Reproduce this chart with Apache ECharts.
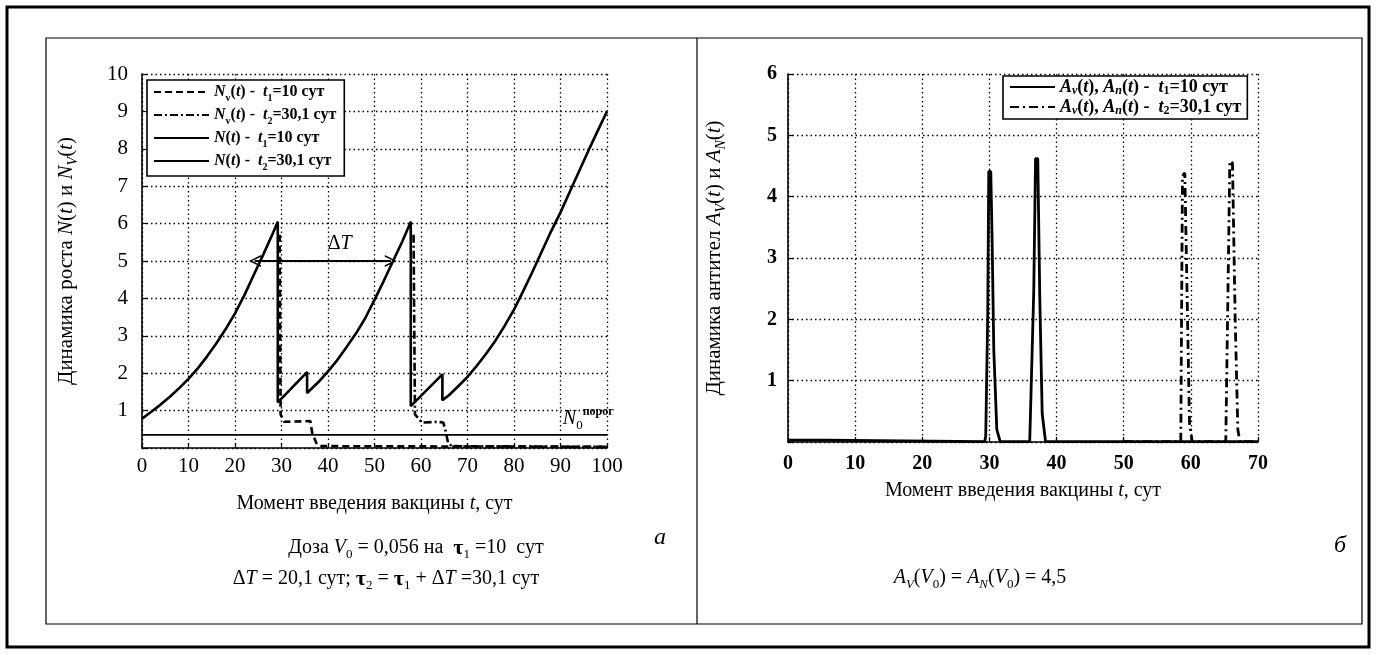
<!DOCTYPE html>
<html><head><meta charset="utf-8">
<script src="https://cdn.jsdelivr.net/npm/echarts@6/dist/echarts.min.js"></script>
<style>html,body{margin:0;padding:0;background:#fff}#c{width:1376px;height:654px}</style>
</head><body><div id="c"></div>
<script>
// ---------- data ----------
const leftX = { min: 0, max: 100, step: 10 };
const leftY = { min: 0, max: 10, step: 1 };
const rightX = { min: 0, max: 70, step: 10 };
const rightY = { min: 0, max: 6, step: 1 };

// N(t), t1 = 10 сут (thin solid)
const N_t1 = [[0,0.78],[2,0.97],[4,1.16],[6,1.37],[8,1.6],[10,1.85],[12,2.13],[14,2.45],[16,2.8],[18,3.18],[20,3.6],[22,4.08],[24,4.62],[26,5.15],[28,5.7],[29.2,6.05],
 [29.2,1.22],[35.5,2.03],[35.5,1.47],[36,1.53],[38,1.77],[40,2.05],[42,2.35],[44,2.7],[46,3.06],[48,3.47],[50,3.96],[52,4.47],[54,5.0],[56,5.53],[57.8,6.05],
 [57.8,1.12],[64.6,1.97],[64.6,1.28],[66,1.41],[68,1.65],[70,1.9],[72,2.2],[74,2.52],[76,2.87],[78,3.27],[80,3.7],[82,4.2],[84,4.72],[86,5.26],[88,5.8],[90,6.3],[92,6.85],[94,7.4],[96,7.95],[98,8.48],[100,9.0]];
// N(t), t2 = 30,1 сут (thick solid)
const N_t2 = [[0,0.78],[2,0.97],[4,1.16],[6,1.37],[8,1.6],[10,1.85],[12,2.13],[14,2.45],[16,2.8],[18,3.18],[20,3.6],[22,4.08],[24,4.62],[26,5.15],[28,5.7],[29.2,6.05],
 [29.2,1.22],[35.5,2.03],[35.5,1.47],[36,1.53],[38,1.77],[40,2.05],[42,2.35],[44,2.7],[46,3.06],[48,3.47],[50,3.96],[52,4.47],[54,5.0],[56,5.53],[57.8,6.05],
 [57.8,1.12],[64.6,1.97],[64.6,1.28],[66,1.41],[68,1.65],[70,1.9],[72,2.2],[74,2.52],[76,2.87],[78,3.27],[80,3.7],[82,4.2],[84,4.72],[86,5.26],[88,5.8],[90,6.3],[92,6.85],[94,7.4],[96,7.95],[98,8.48],[100,9.0]];
// Nv(t), t1 (dashed)
const Nv_t1 = [[29.6,5.7],[29.8,0.9],[30.6,0.7],[36.2,0.72],[36.6,0.4],[37.6,0.1],[38.6,0.05],[100,0.03]];
// Nv(t), t2 (dash-dot)
const Nv_t2 = [[58.4,5.7],[58.7,0.9],[60.2,0.68],[63.5,0.7],[64.8,0.68],[65.3,0.45],[65.8,0.15],[66.6,0.05],[100,0.03]];
// threshold N0
const N0_level = 0.35;
// ΔT arrow ends
const dT_from = 24.3, dT_to = 53.5, dT_level = 5;

// A_v(t), A_n(t) t1 (solid)
const A_t1 = [[0,0.03],[5.6,0.03],[5.7,0.005],[29.3,0.005],[29.45,0.1],[29.75,2.1],[29.9,4.41],[30.2,4.41],[30.4,3.3],[30.65,1.5],[31.1,0.2],[31.6,0.005],
 [36.0,0.005],[36.6,2.45],[36.87,4.62],[37.2,4.62],[37.5,2.35],[37.86,0.46],[38.36,0.005],[70,0.005]];
// A_v(t), A_n(t) t2 (dash-dot)
const A_t2 = [[50,0.005],[58.5,0.005],[58.75,4.34],[59.1,4.39],[59.8,0.3],[60.2,0.005],
 [65.2,0.005],[65.6,3.0],[65.8,4.58],[66.2,4.55],[66.6,2.0],[67.0,0.2],[67.3,0.005],[70,0.005]];

// ---------- styling ----------
const FF = '"Liberation Serif","Times New Roman",serif';
function rich(size, bold, lhMul) {
  const w = bold ? 'bold' : 'normal';
  const lh = Math.round(size * (lhMul || 1.3));
  return {
    n:   { fontFamily: FF, fontSize: size, fontWeight: w, color: '#000', fill: '#000', lineHeight: lh },
    i:   { fontFamily: FF, fontSize: size, fontWeight: w, fontStyle: 'italic', color: '#000', fill: '#000', lineHeight: lh },
    sub: { fontFamily: FF, fontSize: Math.round(size * 0.65), fontWeight: w, color: '#000', fill: '#000', verticalAlign: 'bottom', lineHeight: Math.round(size * 0.8) },
    isub:{ fontFamily: FF, fontSize: Math.round(size * 0.65), fontWeight: w, fontStyle: 'italic', color: '#000', fill: '#000', verticalAlign: 'bottom', lineHeight: Math.round(size * 0.8) },
    sup: { fontFamily: FF, fontSize: Math.round(size * 0.6), fontWeight: 'bold', color: '#000', fill: '#000', verticalAlign: 'top', lineHeight: Math.round(size * 0.7) },
    tau: { fontFamily: FF, fontSize: Math.round(size * 1.1), fontWeight: 'bold', color: '#000', fill: '#000', lineHeight: lh }
  };
}

const legendLeftText = {
  'Nv1': '{i|N}{sub|v}({i|t}) -  {i|t}{sub|1}=10 сут',
  'Nv2': '{i|N}{sub|v}({i|t}) -  {i|t}{sub|2}=30,1 сут',
  'N1':  '{i|N}({i|t}) -  {i|t}{sub|1}=10 сут',
  'N2':  '{i|N}({i|t}) -  {i|t}{sub|2}=30,1 сут'
};
const legendRightText = {
  'A1': '{i|A}{isub|v}({i|t}), {i|A}{isub|n}({i|t}) -  {i|t}{sub|1}=10 сут',
  'A2': '{i|A}{isub|v}({i|t}), {i|A}{isub|n}({i|t}) -  {i|t}{sub|2}=30,1 сут'
};

const dotted = { show: true, lineStyle: { color: '#000', type: [1.5, 3], width: 1.3 } };
const axisLine = { show: true, onZero: false, lineStyle: { color: '#000', width: 1.6 } };
const ticks = { show: true, inside: true, length: 5, lineStyle: { color: '#000', width: 1.2 } };
const noSymbol = { color: 'rgba(0,0,0,0)', borderColor: 'rgba(0,0,0,0)', borderWidth: 0, opacity: 0 };

const chart = echarts.init(document.getElementById('c'), null, { renderer: 'canvas' });

const option = {
  backgroundColor: '#fff',
  animation: false,
  grid: [
    { left: 142, top: 74, width: 465, height: 374 },
    { left: 788, top: 74, width: 470, height: 368 }
  ],
  xAxis: [
    { gridIndex: 0, type: 'value', min: leftX.min, max: leftX.max, interval: leftX.step,
      axisLine, axisTick: ticks, splitLine: dotted,
      axisLabel: { color: '#000', fontFamily: FF, fontSize: 21, margin: 8 },
      name: 'Момент введения вакцины {i|t}, сут', nameLocation: 'middle', nameGap: 43,
      nameTextStyle: { fontFamily: FF, fontSize: 20, color: '#000', rich: rich(20) } },
    { gridIndex: 1, type: 'value', min: rightX.min, max: rightX.max, interval: rightX.step,
      axisLine, axisTick: ticks, splitLine: dotted,
      axisLabel: { color: '#000', fontFamily: FF, fontSize: 20, fontWeight: 'bold', margin: 12 },
      name: 'Момент введения вакцины {i|t}, сут', nameLocation: 'middle', nameGap: 36,
      nameTextStyle: { fontFamily: FF, fontSize: 20, color: '#000', rich: rich(20) } }
  ],
  yAxis: [
    { gridIndex: 0, type: 'value', min: leftY.min, max: leftY.max, interval: leftY.step,
      axisLine, axisTick: ticks, splitLine: dotted,
      axisLabel: { color: '#000', fontFamily: FF, fontSize: 21, margin: 14, formatter: v => v === 0 ? '' : String(v) },
      name: 'Динамика роста {i|N}({i|t}) и {i|N}{isub|V}({i|t})', nameLocation: 'middle', nameGap: 62,
      nameTextStyle: { fontFamily: FF, fontSize: 21, color: '#000', rich: rich(21) } },
    { gridIndex: 1, type: 'value', min: rightY.min, max: rightY.max, interval: rightY.step,
      axisLine, axisTick: ticks, splitLine: dotted,
      axisLabel: { color: '#000', fontFamily: FF, fontSize: 20, fontWeight: 'bold', margin: 11, formatter: v => v === 0 ? '' : String(v) },
      name: 'Динамика антител {i|A}{isub|V}({i|t}) и {i|A}{isub|N}({i|t})', nameLocation: 'middle', nameGap: 60,
      nameTextStyle: { fontFamily: FF, fontSize: 21, color: '#000', rich: rich(21) } }
  ],
  legend: [
    { data: ['Nv1', 'Nv2', 'N1', 'N2'], left: 147, top: 80, orient: 'vertical', selectedMode: false,
      itemWidth: 55, itemHeight: 12, itemGap: 4, padding: [4, 8, 4, 6],
      borderColor: '#000', borderWidth: 1.6, backgroundColor: '#fff',
      itemStyle: noSymbol,
      formatter: n => legendLeftText[n],
      textStyle: { fontFamily: FF, fontSize: 16, fontWeight: 'bold', color: '#000', rich: rich(16, true, 1.35) } },
    { data: ['A1', 'A2'], left: 1003, top: 76, orient: 'vertical', selectedMode: false,
      itemWidth: 45, itemHeight: 12, itemGap: 1, padding: [2, 6, 2, 6],
      borderColor: '#000', borderWidth: 1.6, backgroundColor: '#fff',
      itemStyle: noSymbol,
      formatter: n => legendRightText[n],
      textStyle: { fontFamily: FF, fontSize: 18, fontWeight: 'bold', color: '#000', rich: rich(18, true, 1.1) } }
  ],
  series: [
    { name: 'N0', type: 'line', xAxisIndex: 0, yAxisIndex: 0, symbol: 'none', silent: true,
      data: [[leftX.min, N0_level], [leftX.max, N0_level]], lineStyle: { color: '#000', width: 1.6 }, z: 3 },
    { name: 'Nv1', type: 'line', xAxisIndex: 0, yAxisIndex: 0, symbol: 'none', data: Nv_t1, itemStyle: { color: '#000' },
      lineStyle: { color: '#000', width: 2.6, type: [7, 4] }, z: 4 },
    { name: 'Nv2', type: 'line', xAxisIndex: 0, yAxisIndex: 0, symbol: 'none', data: Nv_t2, itemStyle: { color: '#000' },
      lineStyle: { color: '#000', width: 2.6, type: [8, 3, 2, 3] }, z: 4 },
    { name: 'N2', type: 'line', xAxisIndex: 0, yAxisIndex: 0, symbol: 'none', data: N_t2, itemStyle: { color: '#000' },
      lineStyle: { color: '#000', width: 2.6 }, z: 5,
      markLine: { silent: true, symbol: ['path://M5,0 L10,10 L8.6,10 L5,2.6 L1.4,10 L0,10 Z', 'path://M5,0 L10,10 L8.6,10 L5,2.6 L1.4,10 L0,10 Z'],
        symbolSize: [12, 12], label: { show: false },
        lineStyle: { color: '#000', width: 2.2, type: 'solid' },
        data: [[{ coord: [dT_from, dT_level] }, { coord: [dT_to, dT_level] }]] } },
    { name: 'N1', type: 'line', xAxisIndex: 0, yAxisIndex: 0, symbol: 'none', data: N_t1, itemStyle: { color: '#000' },
      lineStyle: { color: '#000', width: 1.4 }, z: 6 },
    { name: 'A1', type: 'line', xAxisIndex: 1, yAxisIndex: 1, symbol: 'none', data: A_t1, itemStyle: { color: '#000' },
      lineStyle: { color: '#000', width: 2.8 }, z: 5 },
    { name: 'A2', type: 'line', xAxisIndex: 1, yAxisIndex: 1, symbol: 'none', data: A_t2, itemStyle: { color: '#000' },
      lineStyle: { color: '#000', width: 2.8, type: [9, 4, 2, 4] }, z: 5 }
  ]
};
chart.setOption(option);

// annotations placed through the chart's own scales
const pDT = chart.convertToPixel({ gridIndex: 0 }, [42.5, 5.45]);
const pN0 = chart.convertToPixel({ gridIndex: 0 }, [90.5, N0_level]);

function txt(x, y, text, size, align) {
  return { type: 'text', x, y, z: 100,
    style: { text, fontFamily: FF, fontSize: size, fill: '#000', align: align || 'center', verticalAlign: 'middle', rich: rich(size) } };
}

chart.setOption({
  graphic: [
    { type: 'rect', z: 90, shape: { x: 7, y: 7, width: 1362, height: 640 }, style: { fill: 'none', stroke: '#000', lineWidth: 3 } },
    { type: 'rect', z: 90, shape: { x: 46, y: 38, width: 1316, height: 586 }, style: { fill: 'none', stroke: '#000', lineWidth: 1.2 } },
    { type: 'line', z: 90, shape: { x1: 697, y1: 38, x2: 697, y2: 624 }, style: { stroke: '#000', lineWidth: 1.2 } },
    txt(pDT[0], pDT[1], 'Δ{i|T}', 20),
    { type: 'text', z: 100, x: pN0[0], y: pN0[1] - 3,
      style: { text: '{i|N}{sub|0}{sup|порог}', fontFamily: FF, fontSize: 20, fill: '#000', align: 'left', verticalAlign: 'bottom', rich: rich(20) } },
    txt(416, 548, 'Доза {i|V}{sub|0} = 0,056 на  {tau|τ}{sub|1} =10  сут', 20),
    txt(386, 579, 'Δ{i|T} = 20,1 сут; {tau|τ}{sub|2} = {tau|τ}{sub|1} + Δ{i|T} =30,1 сут', 20),
    txt(660, 538, '{i|а}', 24),
    txt(1340, 546, '{i|б}', 24),
    txt(980, 578, '{i|A}{isub|V}({i|V}{sub|0}) = {i|A}{isub|N}({i|V}{sub|0}) = 4,5', 20)
  ]
});
</script>
</body></html>
